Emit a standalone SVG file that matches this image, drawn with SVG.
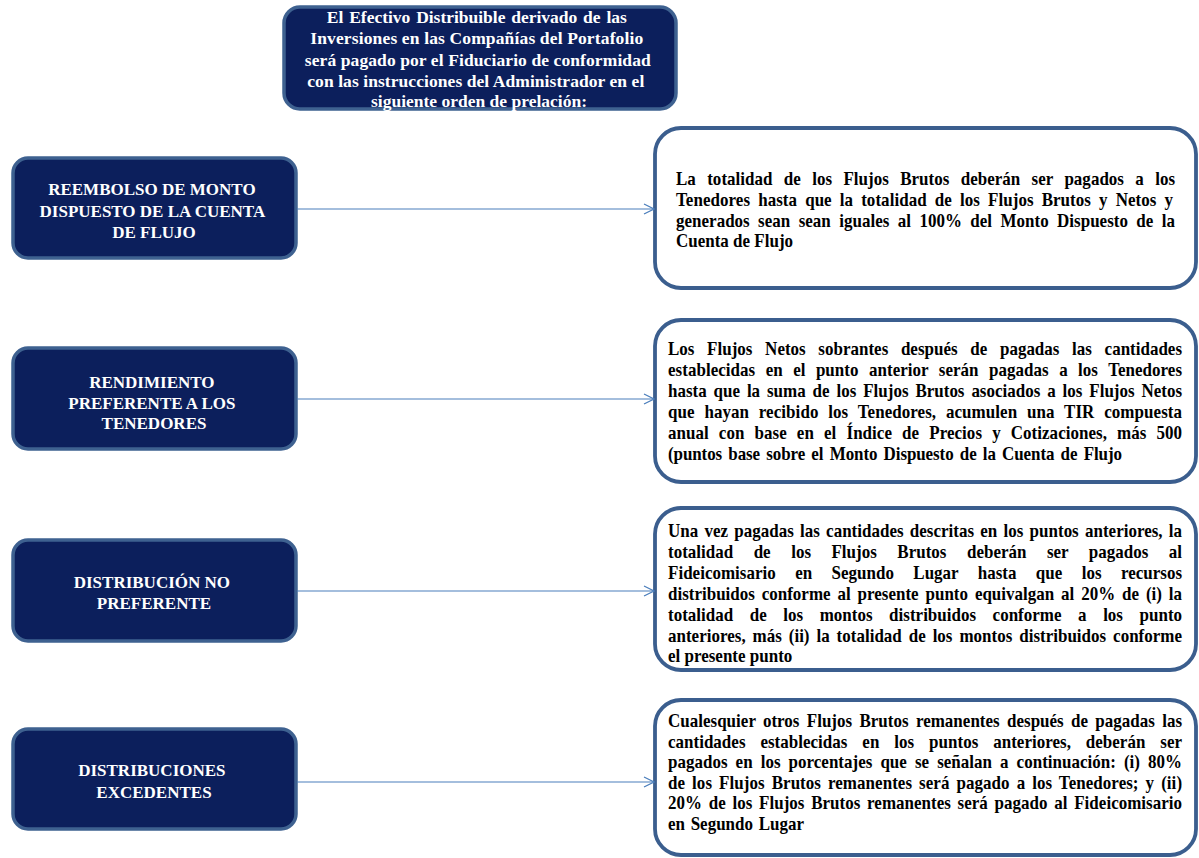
<svg xmlns="http://www.w3.org/2000/svg" width="1199" height="858" viewBox="0 0 1199 858">
  <defs>
    <style>
      .dark { fill: #0c1f5c; stroke: #3e6190; stroke-width: 3.5; }
      .note { fill: #ffffff; stroke: #3b5e8e; stroke-width: 3.8; }
      .wt { font-family: "Liberation Serif", "Times New Roman", serif; font-weight: bold; fill: #ffffff; }
      .bt { font-family: "Liberation Serif", "Times New Roman", serif; font-weight: bold; fill: #000000; font-size: 18px; }
      .hd { font-size: 17.5px; text-anchor: middle; }
      .lb { font-size: 17px; text-anchor: middle; }
      .link { stroke: #4a7ebb; stroke-width: 1.2; fill: none; }
    </style>
    <marker id="open" viewBox="0 0 12 12" refX="11" refY="6" markerWidth="12" markerHeight="12" markerUnits="userSpaceOnUse" orient="auto">
      <path d="M1,1 L11,6 L1,11" fill="none" stroke="#4a7ebb" stroke-width="1.2"/>
    </marker>
  </defs>

  <rect width="1199" height="858" fill="#ffffff"/>

  <!-- heading -->
  <g id="header">
    <rect class="dark" x="284" y="7" width="392" height="102" rx="16"/>
    <text class="wt hd">
      <tspan x="479" y="23" textLength="300" lengthAdjust="spacing" word-spacing="1.5">El Efectivo Distribuible derivado de las</tspan>
      <tspan x="479" y="44" textLength="333" lengthAdjust="spacing">Inversiones en las Compañías del Portafolio</tspan>
      <tspan x="480" y="66" textLength="346" lengthAdjust="spacing">será pagado por el Fiduciario de conformidad</tspan>
      <tspan x="478" y="87" textLength="337" lengthAdjust="spacing">con las instrucciones del Administrador en el</tspan>
      <tspan x="479" y="107" textLength="216" lengthAdjust="spacing">siguiente orden de prelación:</tspan>
    </text>
  </g>

  <!-- left column: payment steps -->
  <g id="step1">
    <rect class="dark" x="13" y="158" width="283" height="100" rx="15"/>
    <text class="wt lb">
      <tspan x="154" y="195">REEMBOLSO DE MONTO</tspan>
      <tspan x="154" y="217">DISPUESTO DE LA CUENTA</tspan>
      <tspan x="154" y="238">DE FLUJO</tspan>
    </text>
  </g>
  <g id="step2">
    <rect class="dark" x="13" y="348" width="283" height="101" rx="15"/>
    <text class="wt lb">
      <tspan x="154" y="388">RENDIMIENTO</tspan>
      <tspan x="154" y="409">PREFERENTE A LOS</tspan>
      <tspan x="154" y="429">TENEDORES</tspan>
    </text>
  </g>
  <g id="step3">
    <rect class="dark" x="13" y="540" width="283" height="101" rx="15"/>
    <text class="wt lb">
      <tspan x="154" y="588">DISTRIBUCIÓN NO</tspan>
      <tspan x="154" y="609">PREFERENTE</tspan>
    </text>
  </g>
  <g id="step4">
    <rect class="dark" x="13" y="729" width="283" height="100" rx="15"/>
    <text class="wt lb">
      <tspan x="154" y="776">DISTRIBUCIONES</tspan>
      <tspan x="154" y="798">EXCEDENTES</tspan>
    </text>
  </g>

  <!-- right column: descriptions, slightly condensed type, justified with word spacing -->
  <g id="desc1">
    <rect class="note" x="655" y="128" width="541" height="160" rx="26"/>
    <text class="bt" transform="matrix(0.94444 0 0 1 37.56 0)">
      <tspan x="676" y="185" textLength="528.4" lengthAdjust="spacing" word-spacing="7.5">La totalidad de los Flujos Brutos deberán ser pagados a los</tspan>
      <tspan x="676" y="206" textLength="526.3" lengthAdjust="spacing" word-spacing="4">Tenedores hasta que la totalidad de los Flujos Brutos y Netos y</tspan>
      <tspan x="676" y="227" textLength="528.4" lengthAdjust="spacing" word-spacing="4.4">generados sean sean iguales al 100% del Monto Dispuesto de la</tspan>
      <tspan x="676" y="247">Cuenta de Flujo</tspan>
    </text>
  </g>
  <g id="desc2">
    <rect class="note" x="655" y="320" width="541" height="162" rx="26"/>
    <text class="bt" transform="matrix(0.94444 0 0 1 37.11 0)">
      <tspan x="668" y="355" textLength="544.3" lengthAdjust="spacing" word-spacing="8.9">Los Flujos Netos sobrantes después de pagadas las cantidades</tspan>
      <tspan x="668" y="376" textLength="544.3" lengthAdjust="spacing" word-spacing="6.5">establecidas en el punto anterior serán pagadas a los Tenedores</tspan>
      <tspan x="668" y="397" textLength="544.3" lengthAdjust="spacing" word-spacing="2.8">hasta que la suma de los Flujos Brutos asociados a los Flujos Netos</tspan>
      <tspan x="668" y="418" textLength="544.3" lengthAdjust="spacing" word-spacing="5.8">que hayan recibido los Tenedores, acumulen una TIR compuesta</tspan>
      <tspan x="668" y="439" textLength="544.3" lengthAdjust="spacing" word-spacing="6.2">anual con base en el Índice de Precios y Cotizaciones, más 500</tspan>
      <tspan x="668" y="460" textLength="480.7" lengthAdjust="spacing" word-spacing="2.2">(puntos base sobre el Monto Dispuesto de la Cuenta de Flujo</tspan>
    </text>
  </g>
  <g id="desc3">
    <rect class="note" x="655" y="508" width="541" height="162" rx="26"/>
    <text class="bt" transform="matrix(0.94444 0 0 1 37.11 0)">
      <tspan x="668" y="537" textLength="544.3" lengthAdjust="spacing" word-spacing="2.1">Una vez pagadas las cantidades descritas en los puntos anteriores, la</tspan>
      <tspan x="668" y="558" textLength="544.3" lengthAdjust="spacing" word-spacing="17.2">totalidad de los Flujos Brutos deberán ser pagados al</tspan>
      <tspan x="668" y="579" textLength="544.3" lengthAdjust="spacing" word-spacing="16">Fideicomisario en Segundo Lugar hasta que los recursos</tspan>
      <tspan x="668" y="600" textLength="544.3" lengthAdjust="spacing" word-spacing="2.8">distribuidos conforme al presente punto equivalgan al 20% de (i) la</tspan>
      <tspan x="668" y="621" textLength="544.3" lengthAdjust="spacing" word-spacing="13">totalidad de los montos distribuidos conforme a los punto</tspan>
      <tspan x="668" y="642" textLength="544.3" lengthAdjust="spacing" word-spacing="2.8">anteriores, más (ii) la totalidad de los montos distribuidos conforme</tspan>
      <tspan x="668" y="662">el presente punto</tspan>
    </text>
  </g>
  <g id="desc4">
    <rect class="note" x="655" y="700" width="541" height="155" rx="26"/>
    <text class="bt" transform="matrix(0.94444 0 0 1 37.11 0)">
      <tspan x="668" y="727" textLength="544.3" lengthAdjust="spacing" word-spacing="3.2">Cualesquier otros Flujos Brutos remanentes después de pagadas las</tspan>
      <tspan x="668" y="748" textLength="544.3" lengthAdjust="spacing" word-spacing="11.3">cantidades establecidas en los puntos anteriores, deberán ser</tspan>
      <tspan x="668" y="768" textLength="544.3" lengthAdjust="spacing" word-spacing="4">pagados en los porcentajes que se señalan a continuación: (i) 80%</tspan>
      <tspan x="668" y="789" textLength="544.3" lengthAdjust="spacing" word-spacing="2.9">de los Flujos Brutos remanentes será pagado a los Tenedores; y (ii)</tspan>
      <tspan x="668" y="809" textLength="544.3" lengthAdjust="spacing" word-spacing="2.6">20% de los Flujos Brutos remanentes será pagado al Fideicomisario</tspan>
      <tspan x="668" y="830" word-spacing="1.5">en Segundo Lugar</tspan>
    </text>
  </g>

  <!-- connectors -->
  <g id="connectors">
    <line class="link" x1="297" y1="209" x2="654" y2="209" marker-end="url(#open)"/>
    <line class="link" x1="297" y1="399" x2="654" y2="399" marker-end="url(#open)"/>
    <line class="link" x1="297" y1="591" x2="654" y2="591" marker-end="url(#open)"/>
    <line class="link" x1="297" y1="782" x2="654" y2="782" marker-end="url(#open)"/>
  </g>
</svg>
